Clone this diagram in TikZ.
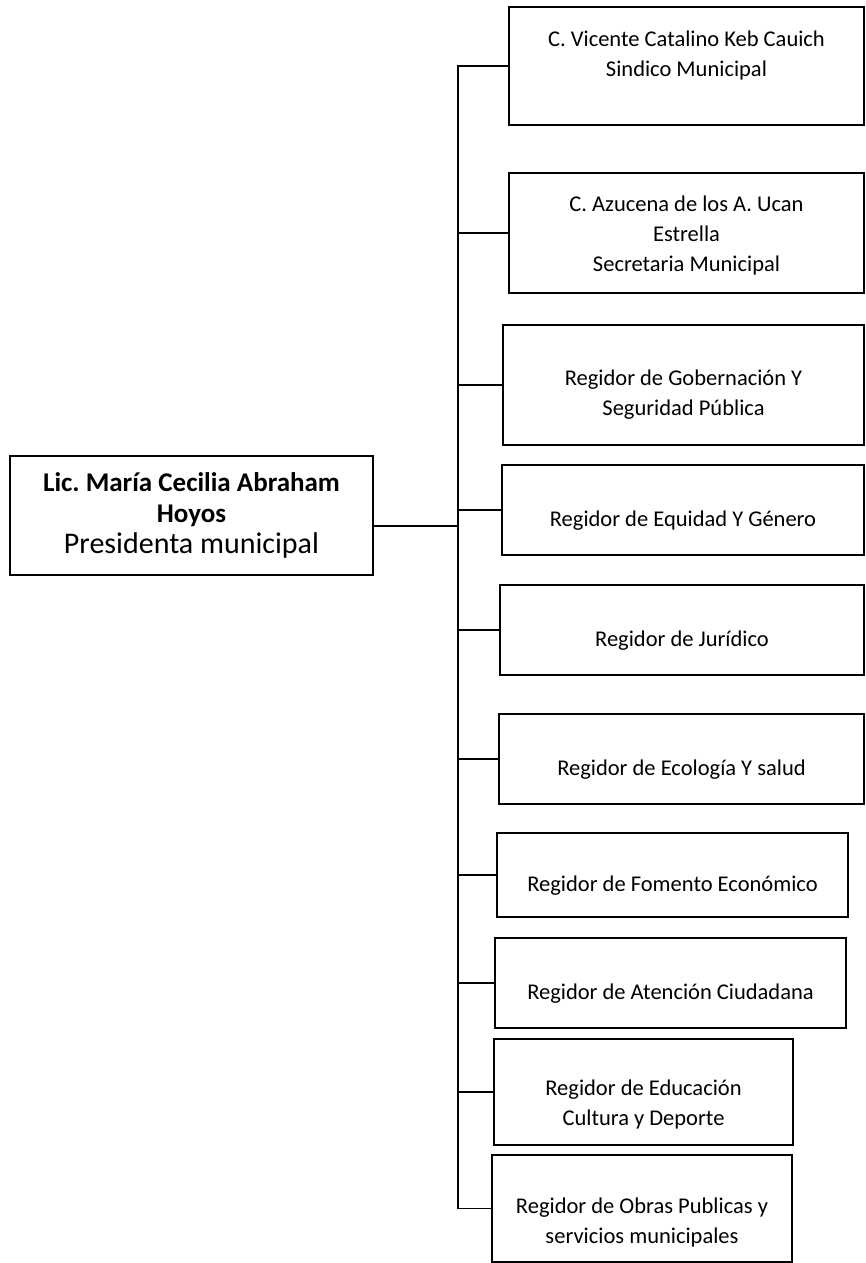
\documentclass[tikz,border=0pt]{standalone}
\usepackage{fontspec}
\setmainfont{Carlito}
\usepackage{tikz}

\begin{document}
\begin{tikzpicture}[x=1pt, y=-1pt, line width=1.5pt,
  cargo/.style 2 args={draw, rectangle, minimum width=#1pt, minimum height=#2pt,
    align=center, inner sep=0pt, outer sep=0pt, font=\fontsize{22.5}{30}\selectfont},
  unalinea/.style={text height=37pt, text depth=5pt},
  jefa/.style={draw, rectangle, minimum width=363pt, minimum height=119pt,
    align=center, inner sep=0pt, outer sep=0pt, font=\fontsize{27}{31}\selectfont}]
\useasboundingbox (0,0) rectangle (866,1263);

\node[jefa] (pres) at (191.5,515.5)
  {\textbf{Lic.\ María Cecilia Abraham}\\
   \textbf{Hoyos}\\
   {\fontsize{30}{31}\selectfont Presidenta municipal}};

\node[cargo={355}{118}, text depth=24pt] (sind) at (686.5,66) {C. Vicente Catalino Keb Cauich\\Sindico Municipal};
\node[cargo={355}{120}, text height=82pt, text depth=5pt] (secr) at (686.5,233) {C. Azucena de los A. Ucan\\Estrella\\Secretaria Municipal};
\node[cargo={361}{120}, text height=65pt, text depth=5pt] (gobe) at (683.5,385) {Regidor de Gobernación Y\\Seguridad Pública};
\node[cargo={362}{90}, unalinea] (equi) at (683,510) {Regidor de Equidad Y Género};
\node[cargo={364}{90}, unalinea] (juri) at (682,630) {Regidor de Jurídico};
\node[cargo={365}{90}, unalinea] (ecol) at (681.5,759) {Regidor de Ecología Y salud};
\node[cargo={351}{84}, unalinea] (fome) at (672.5,875) {Regidor de Fomento Económico};
\node[cargo={351}{90}, unalinea] (aten) at (670.5,983) {Regidor de Atención Ciudadana};
\node[cargo={299}{106}, text height=71pt, text depth=5pt] (educ) at (643.5,1092) {Regidor de Educación\\Cultura y Deporte};
\node[cargo={300}{107}, text height=74pt, text depth=5pt] (obra) at (642,1208.5) {Regidor de Obras Publicas y\\servicios municipales};

\coordinate (trunk) at (458,526);
\draw (sind.west) -| (trunk) |- (obra.west);
\draw ([yshift=-10.5pt]pres.east) -- (trunk);
\foreach \n in {secr,gobe,equi,juri,ecol,fome,aten,educ}
  \draw (\n.west) -- (\n.west -| trunk);
\end{tikzpicture}
\end{document}
